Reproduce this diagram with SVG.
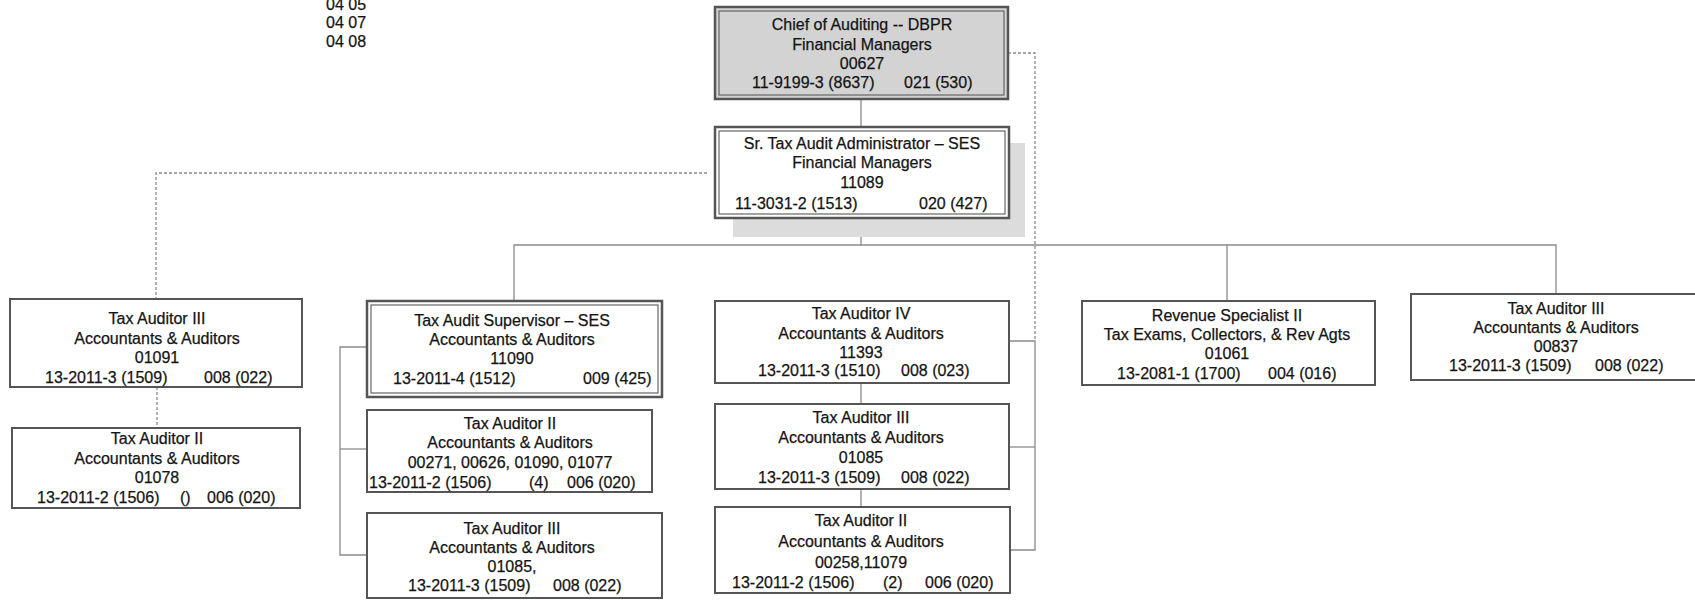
<svg xmlns="http://www.w3.org/2000/svg" width="1695" height="600" viewBox="0 0 1695 600">
<style>
text{font-family:"Liberation Sans",Arial,sans-serif;font-size:16px;fill:#141414;stroke:#141414;stroke-width:0.25}
.c{text-anchor:middle}
.box{fill:#fff;stroke:#555;stroke-width:2}
.inner{fill:none;stroke:#666;stroke-width:1.2}
.ln{fill:none;stroke:#8a8a8a;stroke-width:1.3}
.ds{fill:none;stroke:#8a8a8a;stroke-width:1.3;stroke-dasharray:3 2}
</style>
<rect width="1695" height="600" fill="#fff"/>
<g id="legend">
<text x="326" y="10">04 05</text>
<text x="326" y="28">04 07</text>
<text x="326" y="47">04 08</text>
</g>
<g id="connectors">
<line class="ln" x1="861" y1="99" x2="861" y2="127"/>
<line class="ln" x1="861" y1="218" x2="861" y2="245"/>
<polyline class="ln" points="514,301 514,245 1556,245 1556,294"/>
<line class="ln" x1="1227" y1="245" x2="1227" y2="301"/>
<polyline class="ds" points="707,173 156,173 156,299"/>
<line class="ds" x1="157" y1="387" x2="157" y2="428"/>
<polyline class="ds" points="1008,53 1035,53 1035,341"/>
<polyline class="ln" points="1009,341 1035,341 1035,550 1010,550"/>
<line class="ln" x1="1009" y1="447" x2="1035" y2="447"/>
<line class="ln" x1="861" y1="383" x2="861" y2="404"/>
<line class="ln" x1="861" y1="489" x2="861" y2="507"/>
<polyline class="ln" points="367,347 340,347 340,555 367,555"/>
<line class="ln" x1="340" y1="449" x2="367" y2="449"/>
</g>
<g id="chief">
<rect x="715" y="7" width="293" height="92" fill="#d3d3d3" stroke="#555" stroke-width="2.5"/>
<rect class="inner" x="719" y="11" width="285" height="84"/>
<text class="c" x="862" y="30">Chief of Auditing -- DBPR</text>
<text class="c" x="862" y="50">Financial Managers</text>
<text class="c" x="862" y="69">00627</text>
<text x="752" y="88">11-9199-3 (8637)</text>
<text x="904" y="88">021 (530)</text>
</g>
<g id="admin">
<rect x="733" y="143" width="292" height="94" fill="#dcdcdc"/>
<rect x="715" y="127" width="294" height="91" fill="#fff" stroke="#555" stroke-width="2.5"/>
<rect class="inner" x="719" y="131" width="286" height="83"/>
<text class="c" x="862" y="149">Sr. Tax Audit Administrator – SES</text>
<text class="c" x="862" y="168">Financial Managers</text>
<text class="c" x="862" y="188">11089</text>
<text x="735" y="209">11-3031-2 (1513)</text>
<text x="919" y="209">020 (427)</text>
</g>
<g id="ta3-left">
<rect class="box" x="10" y="299" width="292" height="88"/>
<text class="c" x="157" y="324">Tax Auditor III</text>
<text class="c" x="157" y="344">Accountants &amp; Auditors</text>
<text class="c" x="157" y="363">01091</text>
<text x="45" y="383">13-2011-3 (1509)</text>
<text x="204" y="383">008 (022)</text>
</g>
<g id="ta2-left">
<rect class="box" x="12" y="428" width="288" height="80"/>
<text class="c" x="157" y="444">Tax Auditor II</text>
<text class="c" x="157" y="464">Accountants &amp; Auditors</text>
<text class="c" x="157" y="483">01078</text>
<text x="37" y="503">13-2011-2 (1506)</text>
<text x="180" y="503">()</text>
<text x="207" y="503">006 (020)</text>
</g>
<g id="supervisor">
<rect x="367" y="301" width="295" height="96" fill="#fff" stroke="#555" stroke-width="2.5"/>
<rect class="inner" x="371" y="305" width="287" height="88"/>
<text class="c" x="512" y="326">Tax Audit Supervisor – SES</text>
<text class="c" x="512" y="345">Accountants &amp; Auditors</text>
<text class="c" x="512" y="364">11090</text>
<text x="393" y="384">13-2011-4 (1512)</text>
<text x="583" y="384">009 (425)</text>
</g>
<g id="ta2-sup">
<rect class="box" x="367" y="410" width="285" height="82"/>
<text class="c" x="510" y="429">Tax Auditor II</text>
<text class="c" x="510" y="448">Accountants &amp; Auditors</text>
<text class="c" x="510" y="468">00271, 00626, 01090, 01077</text>
<text x="369" y="488">13-2011-2 (1506)</text>
<text x="529" y="488">(4)</text>
<text x="567" y="488">006 (020)</text>
</g>
<g id="ta3-sup">
<rect class="box" x="367" y="513" width="295" height="85"/>
<text class="c" x="512" y="534">Tax Auditor III</text>
<text class="c" x="512" y="553">Accountants &amp; Auditors</text>
<text class="c" x="512" y="572">01085,</text>
<text x="408" y="591">13-2011-3 (1509)</text>
<text x="553" y="591">008 (022)</text>
</g>
<g id="ta4">
<rect class="box" x="715" y="301" width="294" height="82"/>
<text class="c" x="861" y="319">Tax Auditor IV</text>
<text class="c" x="861" y="339">Accountants &amp; Auditors</text>
<text class="c" x="861" y="358">11393</text>
<text x="758" y="376">13-2011-3 (1510)</text>
<text x="901" y="376">008 (023)</text>
</g>
<g id="ta3-mid">
<rect class="box" x="715" y="404" width="294" height="85"/>
<text class="c" x="861" y="423">Tax Auditor III</text>
<text class="c" x="861" y="443">Accountants &amp; Auditors</text>
<text class="c" x="861" y="463">01085</text>
<text x="758" y="483">13-2011-3 (1509)</text>
<text x="901" y="483">008 (022)</text>
</g>
<g id="ta2-mid">
<rect class="box" x="715" y="507" width="295" height="86"/>
<text class="c" x="861" y="526">Tax Auditor II</text>
<text class="c" x="861" y="547">Accountants &amp; Auditors</text>
<text class="c" x="861" y="568">00258,11079</text>
<text x="732" y="588">13-2011-2 (1506)</text>
<text x="883" y="588">(2)</text>
<text x="925" y="588">006 (020)</text>
</g>
<g id="revenue">
<rect class="box" x="1082" y="301" width="293" height="84"/>
<text class="c" x="1227" y="321">Revenue Specialist II</text>
<text class="c" x="1227" y="340">Tax Exams, Collectors, &amp; Rev Agts</text>
<text class="c" x="1227" y="359">01061</text>
<text x="1117" y="379">13-2081-1 (1700)</text>
<text x="1268" y="379">004 (016)</text>
</g>
<g id="ta3-right">
<rect class="box" x="1411" y="294" width="292" height="86"/>
<text class="c" x="1556" y="314">Tax Auditor III</text>
<text class="c" x="1556" y="333">Accountants &amp; Auditors</text>
<text class="c" x="1556" y="352">00837</text>
<text x="1449" y="371">13-2011-3 (1509)</text>
<text x="1595" y="371">008 (022)</text>
</g>
</svg>
